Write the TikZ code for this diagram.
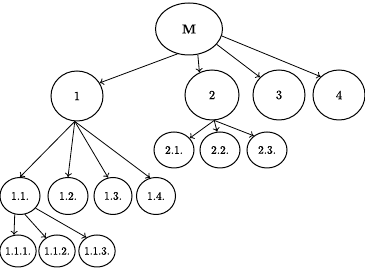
\documentclass[tikz,border=0pt]{standalone}
\usepackage{fontspec}
\newfontface\labfont{lmroman10-regular.otf}[FakeBold=0.7]
\newfontface\labbold{lmroman10-bold.otf}[FakeBold=0.4]
\usetikzlibrary{shapes.geometric,arrows.meta}
\begin{document}
\begin{tikzpicture}[x=1pt,y=-1pt,
  nd/.style={draw, ellipse, inner sep=0pt, line width=1pt, font=\labfont\fontsize{11.5}{13}\selectfont},
  big/.style={nd, minimum width=52pt, minimum height=50pt, font=\labfont\fontsize{12.5}{14}\selectfont},
  mid/.style={nd, minimum width=40pt, minimum height=37pt},
  sml/.style={nd, minimum width=35pt, minimum height=32pt, font=\labfont\fontsize{11}{12}\selectfont},
  arr/.style={-{To[length=4pt,width=7pt]}, line width=0.8pt}]
\useasboundingbox (0,0) rectangle (365,280);
\node[big, minimum width=67pt, minimum height=52pt, font=\labbold\fontsize{13}{15}\selectfont] (M) at (189,29) {M};
\node[big] (n1) at (77,96) {1};
\node[big, minimum width=54pt] (n2) at (212,95) {2};
\node[big] (n3) at (279,95) {3};
\node[big] (n4) at (339,95) {4};
\node[mid, minimum height=36pt] (n21) at (174,150) {2.1.};
\node[mid, minimum height=36pt] (n22) at (220,150) {2.2.};
\node[mid, minimum height=36pt] (n23) at (267,150) {2.3.};
\node[mid] (n11) at (20,196) {1.1.};
\node[mid] (n12) at (68,196) {1.2.};
\node[mid, minimum width=38pt] (n13) at (113,196) {1.3.};
\node[mid, minimum width=39pt] (n14) at (156,196) {1.4.};
\node[sml, minimum width=36pt] (n111) at (18,251) {1.1.1.};
\node[sml] (n112) at (57,251) {1.1.2.};
\node[sml] (n113) at (97,251) {1.1.3.};
\draw[arr] (M.245) -- (n1.30);
\draw[arr] (M.289) -- (n2.119);
\draw[arr] (M.331) -- (n3.137);
\draw[arr] (M.-12) -- (n4.135);
\draw[arr] (n1.265) -- (n11.north);
\draw[arr] (n1.265) -- (n12.north);
\draw[arr] (n1.265) -- (n13.105);
\draw[arr] (n1.265) -- (n14.108);
\draw[arr] (n2.275) -- (n21.37);
\draw[arr] (n2.275) -- (n22.99);
\draw[arr] (n2.275) -- (n23.133);
\draw[arr] (n11.254) -- (n111.104);
\draw[arr] (n11.285) -- (n112.130);
\draw[arr] (n11.322) -- (n113.128);
\end{tikzpicture}
\end{document}
